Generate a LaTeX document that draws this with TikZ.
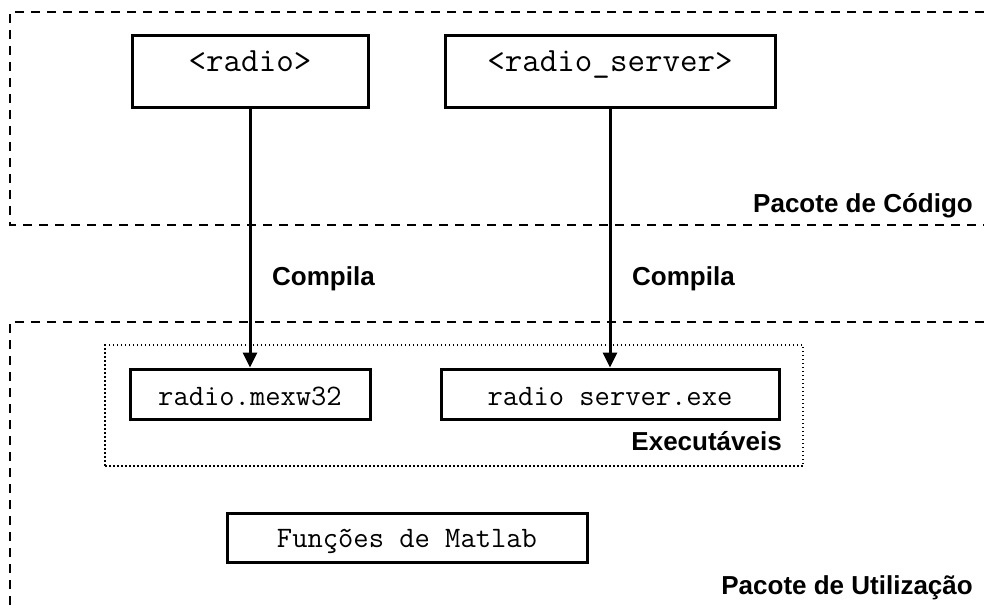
\documentclass[tikz,border=0pt]{standalone}
\usepackage{fontspec}
\setmainfont{Liberation Sans}
\usetikzlibrary{arrows.meta,positioning}
\tikzset{
    %Define standard arrow tip
    >={Triangle[width=14pt,length=15pt]},
    %Define style for source boxes
    fonte/.style={
           rectangle,
           draw=black, line width=3pt,
           inner sep=0pt,
           text height=36.5pt,
           text depth=35.5pt,
           font=\ttfamily\fontsize{34}{40}\selectfont},
    %Define style for compiled boxes
    binario/.style={
           rectangle,
           draw=black, line width=3pt,
           inner sep=0pt,
           text height=36.5pt,
           text depth=13.5pt,
           font=\ttfamily\fontsize{29.7}{35}\selectfont},
    % Define style for bold labels
    rotulo/.style={
           inner sep=0pt,
           font=\bfseries\fontsize{26}{31}\selectfont},
    % Define style for package borders
    pacote/.style={
           line width=2.5pt,
           dash pattern=on 9pt off 7pt},
    % Define style for the group of executables
    grupo/.style={
           rectangle,
           draw=black, line width=1.5pt,
           dash pattern=on 1.5pt off 2.5pt},
    % Define arrow style
    seta/.style={
           ->,
           line width=3pt}
}

\begin{document}
\begin{tikzpicture}[x=1pt, y=-1pt]
    \useasboundingbox (0,0) rectangle (984,608);
    % packages
    \draw[pacote] (984,12) -| (10,225) -- (984,225);
    \draw[pacote] (984,322) -| (10,608);
    \node[rotulo, anchor=base east] (codigo) at (973,212.5) {Pacote de Código};
    \node[rotulo, anchor=base east] (utilizacao) at (973,594) {Pacote de Utilização};
    % sources
    \node[fonte, minimum width=236pt] (radio) at (250,71) {<radio>};
    \node[fonte, minimum width=330pt] (servidor) at (610,71) {<radio\_server>};
    % executables
    \node[grupo, minimum width=698pt, minimum height=121pt] (executaveis) at (454,405.5) {};
    \node[binario, minimum width=240pt, below=259pt of radio] (mex) {radio.mexw32};
    \node[binario, minimum width=338pt, below=259pt of servidor] (exe) {radio server.exe};
    \node[rotulo, anchor=base east] (grupoexec) at (782,450) {Executáveis};
    \node[binario, minimum width=360pt, text height=34pt, text depth=15pt]
        (matlab) at (407,537.5) {Funções de Matlab};
    % compilation
    \draw[seta] (radio) -- (mex);
    \draw[seta] (servidor) -- (exe);
    \node[rotulo, anchor=base west] (compila1) at (272,285) {Compila};
    \node[rotulo, anchor=base west] (compila2) at (632,285) {Compila};
\end{tikzpicture}
\end{document}
